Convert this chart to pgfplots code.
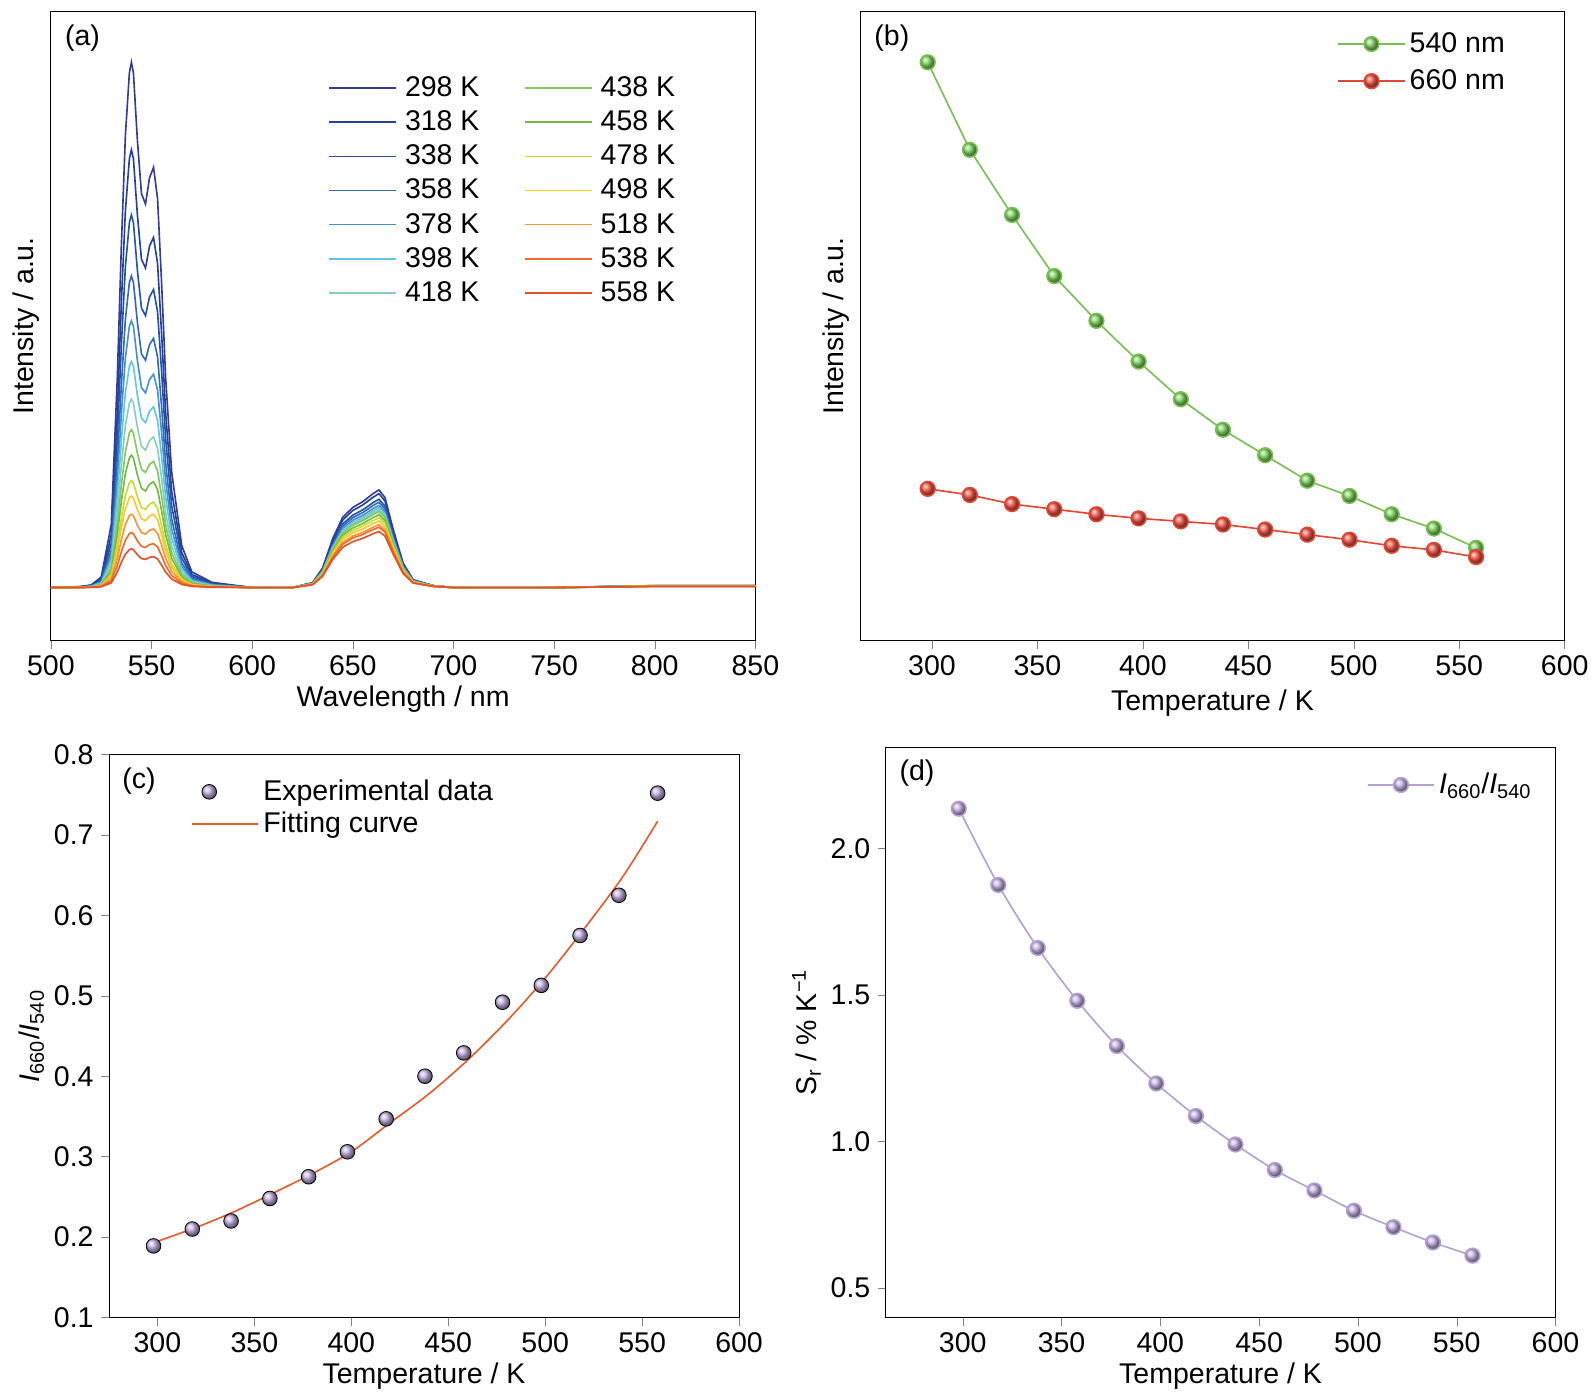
\documentclass[border=0pt]{standalone}
\usepackage{pgfplots}
\usepackage{pgfplotstable}
\usepackage{fontspec}
\setmainfont{Liberation Sans}
\pgfplotsset{compat=1.18}
\pgfplotstableread{
x g r
500 0 0
515 0.002 0
520 0.005 0
525 0.02 0
530 0.12 0
533 0.4 0
535 0.65 0
537 0.86 0
539 0.98 0
540 1 0
541 0.98 0
543 0.85 0
545 0.75 0
547 0.73 0
549 0.78 0
551 0.80 0
553 0.74 0
555 0.58 0
557 0.40 0
560 0.22 0
565 0.08 0
570 0.03 0
580 0.01 0
600 0 0
620 0 0
630 0 0.05
635 0 0.2
640 0 0.5
645 0 0.72
650 0 0.82
655 0 0.88
660 0 0.96
663 0 1
666 0 0.92
670 0 0.6
675 0 0.25
680 0 0.08
690 0 0.02
700 0 0
750 0 0
800 0 0.02
850 0 0.02
}\spec
\definecolor{c1}{RGB}{52,60,150}
\definecolor{c2}{RGB}{38,62,160}
\definecolor{c3}{RGB}{35,82,170}
\definecolor{c4}{RGB}{50,105,185}
\definecolor{c5}{RGB}{70,145,205}
\definecolor{c6}{RGB}{95,200,225}
\definecolor{c7}{RGB}{135,205,190}
\definecolor{c8}{RGB}{130,200,90}
\definecolor{c9}{RGB}{115,185,70}
\definecolor{c10}{RGB}{200,220,40}
\definecolor{c11}{RGB}{250,200,40}
\definecolor{c12}{RGB}{245,150,50}
\definecolor{c13}{RGB}{240,105,40}
\definecolor{c14}{RGB}{228,80,40}
\definecolor{gl}{RGB}{120,190,80}
\definecolor{gb}{RGB}{130,215,100}
\definecolor{rl}{RGB}{225,70,50}
\definecolor{rb}{RGB}{245,85,70}
\definecolor{pl}{RGB}{180,160,210}
\definecolor{pb}{RGB}{200,180,230}
\definecolor{fitc}{RGB}{230,90,40}
\pgfplotsset{
  every axis/.append style={font=\fontsize{14}{16}\selectfont, scale only axis,
    anchor=south west, tick align=outside, xtick pos=bottom, ytick pos=left,
    major tick length=4pt, /pgf/number format/assume math mode=true,
    tick label style={font=\fontsize{14}{16}\selectfont},
    label style={font=\fontsize{14}{16}\selectfont}},
  longline/.style={legend image code/.code={\draw[##1, line width=0.8pt] (0cm,0cm) -- (1.15cm,0cm);}},
  longmark/.style={legend image code/.code={\draw[##1] (0cm,0cm) -- (1.15cm,0cm); \draw[##1,only marks] plot coordinates {(0.575cm,0cm)};}},
}
\newcommand{\spc}[4]{\addplot[#1, line width=0.8pt] table[y expr=\thisrow{g}*#2+\thisrow{r}*#3]{\spec};\addlegendentry{#4}}
\newcommand{\Irat}{\textit{I}\textsubscript{660}/\textit{I}\textsubscript{540}}
\begin{document}
\begin{tikzpicture}
\path[use as bounding box] (0,12pt) rectangle (783.4pt,698.6pt);
\begin{pgfinterruptboundingbox}
% (a)
\begin{axis}[at={(25pt,384pt)}, width=346pt, height=309pt,
  xmin=500, xmax=850, ymin=-52, ymax=566, ytick=\empty,
  xtick={500,550,...,850}, xlabel={Wavelength / nm}, ylabel={Intensity / a.u.},
  xlabel style={yshift=2pt}, ylabel style={yshift=-2pt},
  legend columns=7, transpose legend,
  legend style={draw=none, fill=none, at={(0.385,0.91)}, anchor=north west,
    font=\fontsize{14}{16}\selectfont, column sep=2pt, row sep=1.5pt,
    /tikz/every even column/.append style={column sep=20pt}},
  legend cell align=left, longline,
]
\spc{c1}{516}{96}{298 K}
\spc{c2}{430}{92.3}{318 K}
\spc{c3}{366}{86.8}{338 K}
\spc{c4}{306}{83.8}{358 K}
\spc{c5}{262}{80.7}{378 K}
\spc{c6}{222}{78.3}{398 K}
\spc{c7}{185}{76.4}{418 K}
\spc{c8}{155}{74.6}{438 K}
\spc{c9}{130}{71.5}{458 K}
\spc{c10}{105}{68.5}{478 K}
\spc{c11}{90}{65.4}{498 K}
\spc{c12}{72}{61.7}{518 K}
\spc{c13}{54}{59.3}{538 K}
\spc{c14}{38}{55}{558 K}
\node[anchor=north west] at (rel axis cs:0.01,0.99) {(a)};
\end{axis}
% (b)
\begin{axis}[at={(422.5pt,384pt)}, width=346pt, height=309pt,
  xmin=266, xmax=600, ymin=0, ymax=618, ytick=\empty,
  xtick={300,350,...,600}, xlabel={Temperature / K}, ylabel={Intensity / a.u.},
  ylabel style={yshift=-2pt},
  legend style={draw=none, fill=none, at={(0.93,0.98)}, anchor=north east,
    font=\fontsize{14}{16}\selectfont, row sep=3pt},
  legend cell align=left, longmark,
]
\addplot[gl, line width=0.8pt, mark=ball, mark size=3.6pt, mark options={ball color=gb}] coordinates {
(298,568)(318,482)(338,418)(358,358)(378,314)(398,274)(418,237)(438,207)(458,182)(478,157)(498,142)(518,124)(538,110)(558,91)};
\addlegendentry{540 nm}
\addplot[rl, line width=0.8pt, mark=ball, mark size=3.6pt, mark options={ball color=rb}] coordinates {
(298,149)(318,143)(338,134)(358,129)(378,124)(398,120)(418,117)(438,114)(458,109)(478,104)(498,99)(518,93)(538,89)(558,82)};
\addlegendentry{660 nm}
\node[anchor=north west] at (rel axis cs:0.01,0.99) {(b)};
\end{axis}
% (c)
\begin{axis}[at={(53.5pt,51.5pt)}, width=309.5pt, height=276.5pt,
  xmin=275, xmax=600, ymin=0.1, ymax=0.8,
  xtick={300,350,...,600}, ytick={0.1,0.2,...,0.8},
  yticklabel style={/pgf/number format/.cd, fixed, fixed zerofill, precision=1},
  xlabel={Temperature / K}, ylabel={\Irat},
  xlabel style={yshift=2pt}, ylabel style={yshift=-2pt},
  legend style={draw=none, fill=none, at={(0.12,0.97)}, anchor=north west,
    font=\fontsize{14}{16}\selectfont},
  legend cell align=left,
]
\addlegendimage{only marks, mark=ball, mark size=3.6pt, mark options={ball color=pb}}
\addlegendentry{Experimental data}
\addlegendimage{fitc, line width=0.8pt, longline}
\addlegendentry{Fitting curve}
\addplot[only marks, mark=ball, mark size=3.6pt, mark options={ball color=pb}] coordinates {
(298,0.189)(318,0.21)(338,0.22)(358,0.248)(378,0.275)(398,0.306)(418,0.347)(438,0.40)(458,0.429)(478,0.492)(498,0.513)(518,0.575)(538,0.625)(558,0.752)};
\addplot[fitc, line width=0.8pt, smooth] coordinates {
(298,0.193)(320,0.212)(340,0.232)(360,0.255)(380,0.279)(400,0.306)(420,0.342)(440,0.378)(460,0.42)(480,0.468)(500,0.522)(520,0.583)(540,0.648)(558,0.717)};
\node[anchor=north west] at (rel axis cs:0.01,0.99) {(c)};
\end{axis}
% (d)
\begin{axis}[at={(435pt,51.5pt)}, width=329pt, height=280pt,
  xmin=261, xmax=600, ymin=0.4, ymax=2.344,
  xtick={300,350,...,600}, ytick={0.5,1.0,1.5,2.0},
  yticklabel style={/pgf/number format/.cd, fixed, fixed zerofill, precision=1},
  xlabel={Temperature / K}, ylabel={S\textsubscript{r} / \% K\textsuperscript{−1}},
  xlabel style={yshift=2pt}, ylabel style={yshift=-2pt},
  legend style={draw=none, fill=none, at={(0.98,0.97)}, anchor=north east,
    font=\fontsize{14}{16}\selectfont},
  longmark,
]
\addplot[pl, line width=0.8pt, smooth, mark=ball, mark size=3.6pt, mark options={ball color=pb}] coordinates {
(298,2.135)(318,1.875)(338,1.66)(358,1.48)(378,1.326)(398,1.198)(418,1.087)(438,0.99)(458,0.903)(478,0.833)(498,0.764)(518,0.708)(538,0.656)(558,0.611)};
\addlegendentry{\Irat}
\node[anchor=north west] at (rel axis cs:0.01,0.99) {(d)};
\end{axis}
\end{pgfinterruptboundingbox}
\end{tikzpicture}
\end{document}
